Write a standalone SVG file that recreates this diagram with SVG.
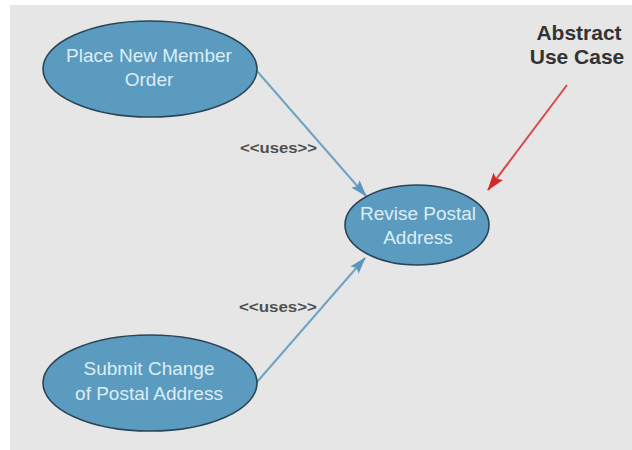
<svg xmlns="http://www.w3.org/2000/svg" width="632" height="450" viewBox="0 0 632 450">
  <style>
    .uc { fill: #5b9bc0; stroke: #2b4656; stroke-width: 1.6; }
    .uct { font-family: "Liberation Sans", Arial, sans-serif; font-size: 19px; fill: #dceef4; text-anchor: middle; }
    .conn { stroke: #6fa3c4; stroke-width: 2; fill: none; }
    .lbl { font-family: "Liberation Sans", Arial, sans-serif; font-size: 15px; fill: #505050; font-weight: bold; }
    .note { font-family: "Liberation Sans", Arial, sans-serif; font-size: 21px; font-weight: bold; fill: #333333; text-anchor: middle; }
  </style>
  <defs>
    <marker id="blueArrow" markerWidth="17" markerHeight="11" refX="16" refY="5.5" orient="auto" markerUnits="userSpaceOnUse">
      <path d="M0,0 L17,5.5 L0,11 L3,5.5 Z" fill="#5b96bd"/>
    </marker>
    <marker id="redArrow" markerWidth="18" markerHeight="12" refX="17" refY="6" orient="auto" markerUnits="userSpaceOnUse">
      <path d="M0,0 L18,6 L0,12 L3,6 Z" fill="#d22b2b"/>
    </marker>
  </defs>
  <rect x="0" y="0" width="632" height="450" fill="#ffffff"/>
  <rect x="10" y="5" width="622" height="445" fill="#e6e6e6"/>

  <g id="connectors">
    <line class="conn" x1="256" y1="70" x2="366" y2="196" marker-end="url(#blueArrow)"/>
    <line class="conn" x1="257" y1="382" x2="365" y2="258" marker-end="url(#blueArrow)"/>
    <line x1="567" y1="85" x2="488" y2="190" stroke="#d84848" stroke-width="2" marker-end="url(#redArrow)"/>
    <text class="lbl" x="240" y="153" textLength="77" lengthAdjust="spacingAndGlyphs">&lt;&lt;uses&gt;&gt;</text>
    <text class="lbl" x="239" y="312" textLength="78" lengthAdjust="spacingAndGlyphs">&lt;&lt;uses&gt;&gt;</text>
  </g>

  <g id="place-new-member-order">
    <ellipse class="uc" cx="150" cy="69" rx="107" ry="48"/>
    <text class="uct" x="149" y="62">Place New Member</text>
    <text class="uct" x="149" y="86">Order</text>
  </g>

  <g id="revise-postal-address">
    <ellipse class="uc" cx="417" cy="225" rx="72" ry="40"/>
    <text class="uct" x="418" y="220">Revise Postal</text>
    <text class="uct" x="418" y="244">Address</text>
  </g>

  <g id="submit-change-of-postal-address">
    <ellipse class="uc" cx="150" cy="383" rx="107" ry="48"/>
    <text class="uct" x="149" y="375">Submit Change</text>
    <text class="uct" x="149" y="400">of Postal Address</text>
  </g>

  <g id="abstract-note">
    <text class="note" x="579" y="40">Abstract</text>
    <text class="note" x="577" y="64">Use Case</text>
  </g>
</svg>
